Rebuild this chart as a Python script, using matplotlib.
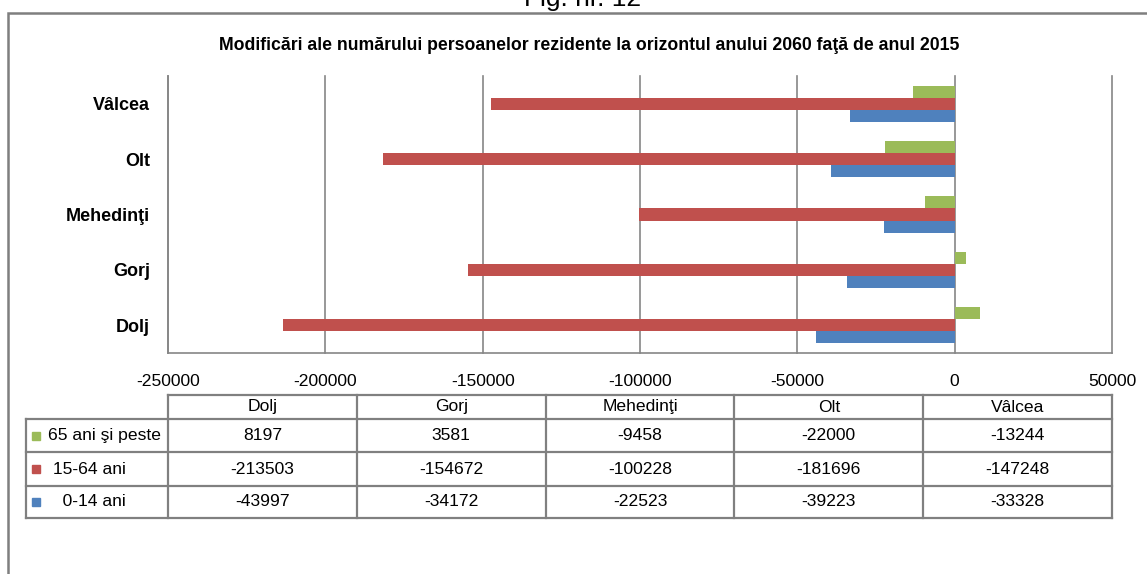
import numpy as np
import matplotlib.pyplot as plt
from matplotlib.patches import Rectangle

# ------------------------------------------------------------
# Data read from the chart / table
# ------------------------------------------------------------
judete = ["Dolj", "Gorj", "Mehedinţi", "Olt", "Vâlcea"]
serii = ["65 ani şi peste", " 15-64 ani", "   0-14 ani"]
v_65 = [8197, 3581, -9458, -22000, -13244]
v_15_64 = [-213503, -154672, -100228, -181696, -147248]
v_0_14 = [-43997, -34172, -22523, -39223, -33328]
culori = ["#9BBB59", "#C0504D", "#4F81BD"]
x_ticks = [-250000, -200000, -150000, -100000, -50000, 0, 50000]

W, H = 1147, 574
GRID = "#868686"
FS = 12.6

plt.rcParams["font.family"] = ["Liberation Sans", "DejaVu Sans"]

fig = plt.figure(figsize=(W / 100, H / 100), dpi=100)


def fx(px):
    return px / W


def fy(py):
    return 1 - py / H


# outer frame (right and bottom run off the picture)
fig.patches.append(Rectangle((fx(8), fy(620)), fx(1160) - fx(8), fy(13) - fy(620),
                             transform=fig.transFigure, fill=False,
                             edgecolor="#7F7F7F", linewidth=1.8))
fig.text(fx(583), fy(6), "Fig. nr. 12", ha="center", va="baseline", fontsize=19)
fig.text(fx(589), fy(45), "Modificări ale numărului persoanelor rezidente la orizontul anului 2060 faţă de anul 2015",
         ha="center", va="center", fontsize=12.7, fontweight="bold")

# ------------------------------------------------------------
# Bar chart
# ------------------------------------------------------------
ax = fig.add_axes([fx(168), fy(353), fx(1112) - fx(168), fy(76) - fy(353)])
y = np.arange(len(judete))
h = 0.217
ax.barh(y + h, v_65, height=h, color=culori[0], zorder=3)
ax.barh(y, v_15_64, height=h, color=culori[1], zorder=3)
ax.barh(y - h, v_0_14, height=h, color=culori[2], zorder=3)

ax.set_xlim(-250000, 50000)
ax.set_ylim(-0.5, len(judete) - 0.5)
ax.set_xticks(x_ticks)
ax.set_xticklabels([str(t) for t in x_ticks], fontsize=FS)
ax.set_yticks(y)
ax.set_yticklabels(judete, fontsize=13, fontweight="bold")
ax.tick_params(axis="both", length=0)
ax.tick_params(axis="x", pad=15)
ax.tick_params(axis="y", pad=13)
ax.grid(axis="x", color=GRID, linewidth=1.2, zorder=0)
for gl in ax.get_xgridlines():
    gl.set_clip_on(False)
for s in ["top", "right"]:
    ax.spines[s].set_visible(False)
for s in ["left", "bottom"]:
    ax.spines[s].set_color(GRID)
    ax.spines[s].set_linewidth(1.2)

# ------------------------------------------------------------
# Data table under the chart
# ------------------------------------------------------------
tab = fig.add_axes([fx(168), fy(518), fx(1112) - fx(168), fy(395) - fy(518)])
tab.set_xlim(0, len(judete))
tab.set_ylim(518, 395)
tab.axis("off")
rows = [395, 419, 452, 486, 518]
col_w = (1112 - 168) / len(judete)
px = 1 / col_w
x0 = -(168 - 26) * px
lk = dict(color="#808080", linewidth=1.6, clip_on=False, solid_capstyle="projecting")
tab.plot([0, len(judete)], [rows[0], rows[0]], **lk)
for r in rows[1:]:
    tab.plot([x0, len(judete)], [r, r], **lk)
for c in range(len(judete) + 1):
    tab.plot([c, c], [rows[0], rows[-1]], **lk)
tab.plot([x0, x0], [rows[1], rows[-1]], **lk)

for c, name in enumerate(judete):
    tab.text(c + 0.5, (rows[0] + rows[1]) / 2, name, ha="center", va="center", fontsize=FS)

for r, (nume, vals, col) in enumerate(zip(serii, [v_65, v_15_64, v_0_14], culori)):
    yr = (rows[r + 1] + rows[r + 2]) / 2
    tab.plot([x0 + 10.5 * px], [yr], marker="s", markersize=5.2, color=col, clip_on=False)
    tab.text(x0 + 22 * px, yr, nume, ha="left", va="center", fontsize=FS)
    for c, v in enumerate(vals):
        tab.text(c + 0.5, yr, str(v), ha="center", va="center", fontsize=FS)

fig.savefig("out.png", dpi=100)
